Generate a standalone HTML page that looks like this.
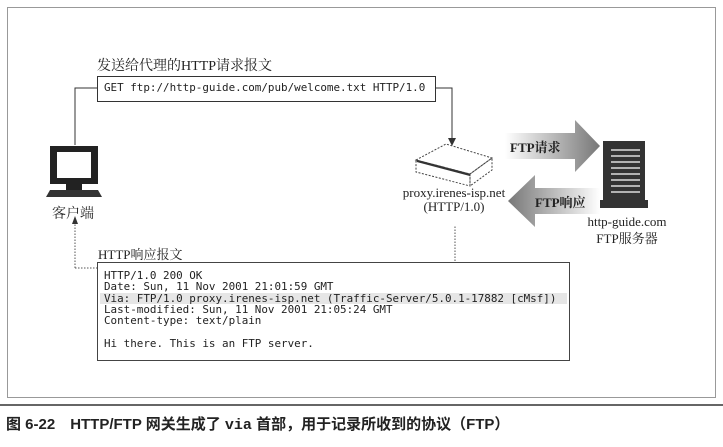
<!DOCTYPE html>
<html><head><meta charset="utf-8"><style>
body{margin:0;width:723px;height:447px;background:#fff;position:relative;overflow:hidden;font-family:"Liberation Serif","Noto Serif CJK SC",serif;color:#222}
.a{position:absolute;white-space:nowrap}
.m{font-family:"DejaVu Sans Mono","Liberation Mono",monospace;font-size:10.9px;line-height:11.3px}
</style></head><body>
<svg class="a" style="left:0;top:0" width="723" height="447">
<defs>
<linearGradient id="g1" x1="0" x2="1"><stop offset="0" stop-color="#fff"/><stop offset="1" stop-color="#777"/></linearGradient>
<linearGradient id="g2" x1="1" x2="0"><stop offset="0" stop-color="#fff"/><stop offset="1" stop-color="#777"/></linearGradient>
</defs>
<rect x="7.5" y="7.5" width="708" height="390" fill="none" stroke="#999"/>
<line x1="0" y1="405" x2="723" y2="405" stroke="#333" stroke-width="1.5"/>
<rect x="97.5" y="76.5" width="338" height="25" fill="#fff" stroke="#333"/>
<polyline points="75,145 75,88 97,88" fill="none" stroke="#333"/>
<polyline points="436,88 452,88 452,140" fill="none" stroke="#333"/>
<polygon points="448,138 456,138 452,146" fill="#333"/>
<rect x="50" y="146" width="48" height="38" fill="#222"/>
<rect x="57" y="152" width="34" height="26" fill="#fff"/>
<rect x="66" y="184" width="16" height="6" fill="#222"/>
<polygon points="50,190 98,190 102,197 46,197" fill="#333"/>
<polyline points="75,268 75,222" stroke="#555" stroke-dasharray="1.5,1.5" fill="none"/>
<polygon points="72,224 78,224 75,216" fill="#333"/>
<polyline points="75,268 455,268 455,225" stroke="#555" stroke-dasharray="1.5,1.5" fill="none"/>
<g stroke="#444" fill="none" stroke-dasharray="2,1.5">
<polygon points="416,160 446,144 492,158 470,174"/>
<polygon points="416,160 470,174 470,186 416,172"/>
<polygon points="470,174 492,158 492,170 470,186"/>
</g>
<line x1="417" y1="161" x2="470" y2="175" stroke="#333" stroke-width="2"/>
<polygon points="505,133 575,133 575,120 600,146 575,172 575,159 505,159" fill="url(#g1)"/>
<polygon points="600,188 535,188 535,175 508,201 535,227 535,214 600,214" fill="url(#g2)"/>
<rect x="603" y="141" width="42" height="60" fill="#333"/>
<rect x="600" y="200" width="48" height="8" fill="#333"/>
<g stroke="#fff" stroke-width="1.3">
<line x1="611" y1="150" x2="640" y2="150"/><line x1="611" y1="156" x2="640" y2="156"/><line x1="611" y1="162" x2="640" y2="162"/><line x1="611" y1="168" x2="640" y2="168"/><line x1="611" y1="174" x2="640" y2="174"/><line x1="611" y1="180" x2="640" y2="180"/><line x1="611" y1="186" x2="640" y2="186"/><line x1="611" y1="192" x2="640" y2="192"/>
</g>
<rect x="97.5" y="262.5" width="472" height="98" fill="#fff" stroke="#444"/>
<rect x="100" y="293" width="467" height="11" fill="#e6e6e6"/>
</svg>
<div class="a" style="left:97px;top:55px;font-size:14px">发送给代理的HTTP请求报文</div>
<div class="a m" style="left:104px;top:82px;font-size:10.9px">GET ftp://http-guide.com/pub/welcome.txt HTTP/1.0</div>
<div class="a" style="left:52px;top:203px;font-size:14px">客户端</div>
<div class="a" style="left:384px;top:186px;font-size:13px;text-align:center;width:140px;line-height:14px">proxy.irenes-isp.net<br>(HTTP/1.0)</div>
<div class="a" style="left:510px;top:137px;font-size:13px;font-weight:bold">FTP请求</div>
<div class="a" style="left:535px;top:192px;font-size:13px;font-weight:bold">FTP响应</div>
<div class="a" style="left:577px;top:213px;font-size:13px;text-align:center;width:100px;line-height:17px">http-guide.com<br>FTP服务器</div>
<div class="a" style="left:98px;top:244px;font-size:13px">HTTP响应报文</div>
<div class="a m" style="left:104px;top:270px">HTTP/1.0 200 OK<br>Date: Sun, 11 Nov 2001 21:01:59 GMT<br>Via: FTP/1.0 proxy.irenes-isp.net (Traffic-Server/5.0.1-17882 [cMsf])<br>Last-modified: Sun, 11 Nov 2001 21:05:24 GMT<br>Content-type: text/plain<br><br>Hi there. This is an FTP server.</div>
<div class="a" style="left:6px;top:413px;font-size:15px;font-weight:bold;font-family:'Liberation Sans','Noto Sans CJK SC',sans-serif">图 6-22　HTTP/FTP 网关生成了 <span style="font-family:'Liberation Mono',monospace">via</span> 首部，用于记录所收到的协议（FTP）</div>
</body></html>
